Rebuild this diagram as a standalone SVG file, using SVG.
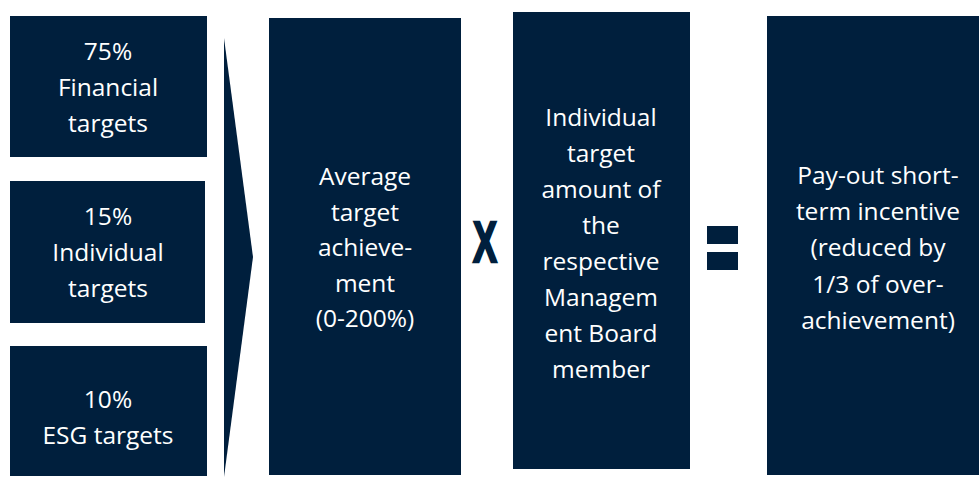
<svg xmlns="http://www.w3.org/2000/svg" width="979" height="477" viewBox="0 0 979 477">
<style>
.box{fill:#001F3D}
.t{fill:#ffffff;font-family:"Open Sans","Liberation Sans",sans-serif;font-size:24.5px;text-anchor:middle}
</style>
<rect width="979" height="477" fill="#ffffff"/>
<g id="financial">
<rect class="box" x="10" y="16" width="197" height="141"/>
<text class="t" x="108" y="60">75%</text>
<text class="t" x="108" y="96">Financial</text>
<text class="t" x="108" y="132">targets</text>
</g>
<g id="individual">
<rect class="box" x="10" y="181" width="195" height="142"/>
<text class="t" x="108" y="225">15%</text>
<text class="t" x="108" y="261">Individual</text>
<text class="t" x="108" y="297">targets</text>
</g>
<g id="esg">
<rect class="box" x="10" y="346" width="197" height="130"/>
<text class="t" x="108" y="408">10%</text>
<text class="t" x="108" y="444">ESG targets</text>
</g>
<g id="connectors">
<polygon class="box" points="224,38 253,257 224,477"/>
</g>
<g id="average">
<rect class="box" x="269" y="18" width="192" height="457"/>
<text class="t" x="365" y="185">Average</text>
<text class="t" x="365" y="221">target</text>
<text class="t" x="365" y="256">achieve-</text>
<text class="t" x="365" y="292">ment</text>
<text class="t" x="365" y="327">(0-200%)</text>
</g>
<g id="times">
<text x="0" y="0" transform="translate(485,262) scale(0.62,1)" fill="#001F3D" stroke="#001F3D" stroke-width="2.5" font-family="Liberation Sans, sans-serif" font-weight="bold" font-size="58" text-anchor="middle">X</text>
</g>
<g id="target-amount">
<rect class="box" x="513" y="12" width="177" height="457"/>
<text class="t" x="601" y="126">Individual</text>
<text class="t" x="601" y="162">target</text>
<text class="t" x="601" y="198">amount of</text>
<text class="t" x="601" y="234">the</text>
<text class="t" x="601" y="270">respective</text>
<text class="t" x="601" y="306">Managem</text>
<text class="t" x="601" y="342">ent Board</text>
<text class="t" x="601" y="378">member</text>
</g>
<g id="equals">
<rect class="box" x="707" y="226" width="31" height="18"/>
<rect class="box" x="707" y="252" width="31" height="18"/>
</g>
<g id="payout">
<rect class="box" x="767" y="16" width="220" height="459"/>
<text class="t" x="878" y="184">Pay-out short-</text>
<text class="t" x="878" y="220">term incentive</text>
<text class="t" x="878" y="256">(reduced by</text>
<text class="t" x="878" y="293">1/3 of over-</text>
<text class="t" x="878" y="329">achievement)</text>
</g>
</svg>
